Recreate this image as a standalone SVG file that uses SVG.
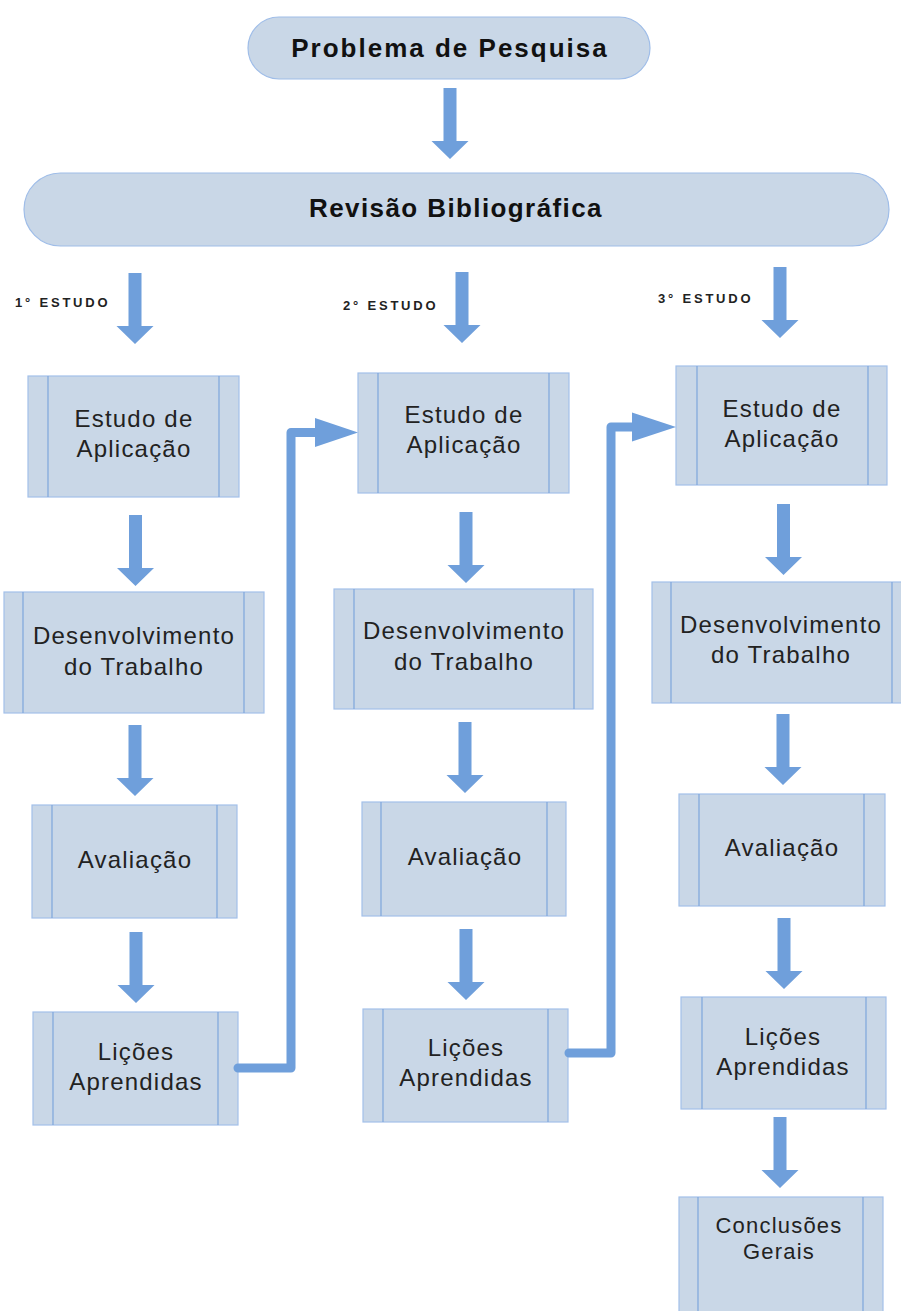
<svg xmlns="http://www.w3.org/2000/svg" xmlns:xlink="http://www.w3.org/1999/xlink" width="901" height="1311" viewBox="0 0 901 1311">
<style>
.pill{fill:#c9d7e7;stroke:#9fbde8;stroke-width:1.2}
.box{fill:#c9d7e7;stroke:#a3c0ea;stroke-width:1.2}
.inner{stroke:#7ea6dc;stroke-width:1.2}
.arr{fill:#6f9fdb}
.conn{fill:none;stroke:#6f9fdb;stroke-width:9;stroke-linecap:round;stroke-linejoin:round}
.t{font-family:"Liberation Sans",Arial,sans-serif;font-size:24px;letter-spacing:1.2px;fill:#222;text-anchor:middle}
.tb{font-family:"Liberation Sans",Arial,sans-serif;font-size:26px;font-weight:bold;fill:#111;text-anchor:middle}
.lab{font-family:"Liberation Sans",Arial,sans-serif;font-size:13px;font-weight:bold;letter-spacing:2.8px;fill:#222}
</style>
<defs>
<path id="dn" d="M-6.5,0 H6.5 V53 H18.5 L0,71 L-18.5,53 H-6.5 Z"/>
</defs>
<rect width="901" height="1311" fill="#fff"/>

<g id="problema">
<rect class="pill" x="248" y="17" width="402" height="62" rx="31"/>
<text class="tb" x="450" y="57" letter-spacing="2">Problema de Pesquisa</text>
</g>
<g id="revisao">
<rect class="pill" x="24" y="173" width="865" height="73" rx="36.5"/>
<text class="tb" x="456" y="217" letter-spacing="1.4">Revisão Bibliográfica</text>
</g>

<g id="labels">
<text class="lab" x="15" y="307">1° ESTUDO</text>
<text class="lab" x="343" y="310">2° ESTUDO</text>
<text class="lab" x="658" y="303">3° ESTUDO</text>
</g>

<!-- column 1 -->
<g id="c1-estudo">
<rect class="box" x="28" y="376" width="211" height="121"/>
<line class="inner" x1="48" y1="376" x2="48" y2="497"/><line class="inner" x1="219" y1="376" x2="219" y2="497"/>
<text class="t" x="134" y="427">Estudo de</text><text class="t" x="134" y="457">Aplicação</text>
</g>
<g id="c1-desenv">
<rect class="box" x="4" y="592" width="260" height="121"/>
<line class="inner" x1="23" y1="592" x2="23" y2="713"/><line class="inner" x1="244" y1="592" x2="244" y2="713"/>
<text class="t" x="134" y="644">Desenvolvimento</text><text class="t" x="134" y="675">do Trabalho</text>
</g>
<g id="c1-aval">
<rect class="box" x="32" y="805" width="205" height="113"/>
<line class="inner" x1="52" y1="805" x2="52" y2="918"/><line class="inner" x1="217" y1="805" x2="217" y2="918"/>
<text class="t" x="135" y="868">Avaliação</text>
</g>
<g id="c1-licoes">
<rect class="box" x="33" y="1012" width="205" height="113"/>
<line class="inner" x1="53" y1="1012" x2="53" y2="1125"/><line class="inner" x1="218" y1="1012" x2="218" y2="1125"/>
<text class="t" x="136" y="1060">Lições</text><text class="t" x="136" y="1090">Aprendidas</text>
</g>

<!-- column 2 -->
<g id="c2-estudo">
<rect class="box" x="358" y="373" width="211" height="120"/>
<line class="inner" x1="378" y1="373" x2="378" y2="493"/><line class="inner" x1="549" y1="373" x2="549" y2="493"/>
<text class="t" x="464" y="423">Estudo de</text><text class="t" x="464" y="453">Aplicação</text>
</g>
<g id="c2-desenv">
<rect class="box" x="334" y="589" width="259" height="120"/>
<line class="inner" x1="354" y1="589" x2="354" y2="709"/><line class="inner" x1="574" y1="589" x2="574" y2="709"/>
<text class="t" x="464" y="639">Desenvolvimento</text><text class="t" x="464" y="670">do Trabalho</text>
</g>
<g id="c2-aval">
<rect class="box" x="362" y="802" width="204" height="114"/>
<line class="inner" x1="381" y1="802" x2="381" y2="916"/><line class="inner" x1="547" y1="802" x2="547" y2="916"/>
<text class="t" x="465" y="865">Avaliação</text>
</g>
<g id="c2-licoes">
<rect class="box" x="363" y="1009" width="205" height="113"/>
<line class="inner" x1="383" y1="1009" x2="383" y2="1122"/><line class="inner" x1="548" y1="1009" x2="548" y2="1122"/>
<text class="t" x="466" y="1056">Lições</text><text class="t" x="466" y="1086">Aprendidas</text>
</g>

<!-- column 3 -->
<g id="c3-estudo">
<rect class="box" x="676" y="366" width="211" height="119"/>
<line class="inner" x1="697" y1="366" x2="697" y2="485"/><line class="inner" x1="868" y1="366" x2="868" y2="485"/>
<text class="t" x="782" y="417">Estudo de</text><text class="t" x="782" y="447">Aplicação</text>
</g>
<g id="c3-desenv">
<rect class="box" x="652" y="582" width="258" height="121"/>
<line class="inner" x1="671" y1="582" x2="671" y2="703"/><line class="inner" x1="892" y1="582" x2="892" y2="703"/>
<text class="t" x="781" y="633">Desenvolvimento</text><text class="t" x="781" y="663">do Trabalho</text>
</g>
<g id="c3-aval">
<rect class="box" x="679" y="794" width="206" height="112"/>
<line class="inner" x1="699" y1="794" x2="699" y2="906"/><line class="inner" x1="864" y1="794" x2="864" y2="906"/>
<text class="t" x="782" y="856">Avaliação</text>
</g>
<g id="c3-licoes">
<rect class="box" x="681" y="997" width="205" height="112"/>
<line class="inner" x1="702" y1="997" x2="702" y2="1109"/><line class="inner" x1="866" y1="997" x2="866" y2="1109"/>
<text class="t" x="783" y="1045">Lições</text><text class="t" x="783" y="1075">Aprendidas</text>
</g>
<g id="c3-conclusoes">
<rect class="box" x="679" y="1197" width="204" height="130"/>
<line class="inner" x1="698" y1="1197" x2="698" y2="1327"/><line class="inner" x1="863" y1="1197" x2="863" y2="1327"/>
<text class="t" x="779" y="1233" style="font-size:22px">Conclusões</text><text class="t" x="779" y="1259" style="font-size:22px">Gerais</text>
</g>

<g id="connectors">
<use href="#dn" xlink:href="#dn" class="arr" transform="translate(450,88)"/>
<use href="#dn" xlink:href="#dn" class="arr" transform="translate(135,273)"/>
<use href="#dn" xlink:href="#dn" class="arr" transform="translate(135.5,515)"/>
<use href="#dn" xlink:href="#dn" class="arr" transform="translate(135,725)"/>
<use href="#dn" xlink:href="#dn" class="arr" transform="translate(136,932)"/>
<use href="#dn" xlink:href="#dn" class="arr" transform="translate(462,272)"/>
<use href="#dn" xlink:href="#dn" class="arr" transform="translate(466,512)"/>
<use href="#dn" xlink:href="#dn" class="arr" transform="translate(465,722)"/>
<use href="#dn" xlink:href="#dn" class="arr" transform="translate(466,929)"/>
<use href="#dn" xlink:href="#dn" class="arr" transform="translate(780,267)"/>
<use href="#dn" xlink:href="#dn" class="arr" transform="translate(783.5,504)"/>
<use href="#dn" xlink:href="#dn" class="arr" transform="translate(783,714)"/>
<use href="#dn" xlink:href="#dn" class="arr" transform="translate(784,918)"/>
<use href="#dn" xlink:href="#dn" class="arr" transform="translate(780,1117)"/>
<path class="conn" d="M238,1068 H291 V432.5 H318"/>
<polygon class="arr" points="315,418 358,432.5 315,447"/>
<path class="conn" d="M569,1053 H611 V427 H635"/>
<polygon class="arr" points="632,412.5 676,427 632,441.5"/>
</g>
</svg>
